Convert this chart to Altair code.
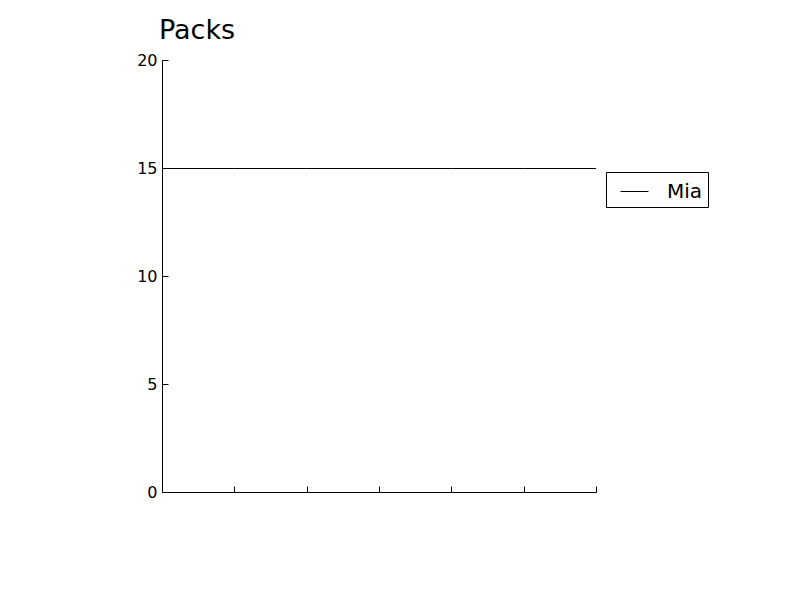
import altair as alt
import pandas as pd

series_names = ["Mia"]
x_positions = [0, 1, 2, 3, 4, 5, 6]
mia_values = [15, 15, 15, 15, 15, 15, 15]
y_ticks = [0, 5, 10, 15, 20]

df = pd.DataFrame({
    "x": x_positions,
    "value": mia_values,
    "series": ["Mia"] * len(x_positions),
})

FONT = "DejaVu Sans"
xs = alt.Scale(domain=[0, 6], nice=False, zero=False)
ys = alt.Scale(domain=[0, 20], nice=False, zero=False)

base = alt.Chart(df)

line = base.mark_line(strokeWidth=1, yOffset=0.5, color="black").encode(
    x=alt.X("x:Q", scale=xs, axis=alt.Axis(
        orient="bottom", values=x_positions, labels=False, ticks=False,
        domain=True, domainColor="black", domainWidth=1, grid=False, title=None)),
    y=alt.Y("value:Q", scale=ys, axis=alt.Axis(
        orient="left", values=y_ticks, ticks=False, labelPadding=5,
        labelFont=FONT, labelFontSize=16, labelColor="black",
        domain=True, domainColor="black", domainWidth=1, grid=False, title=None)),
    color=alt.Color("series:N", scale=alt.Scale(domain=series_names, range=["black"]),
                    legend=alt.Legend(
                        orient="none", legendX=444, legendY=112, title=None,
                        strokeColor="black", fillColor="white", padding=5,
                        cornerRadius=0, symbolType="stroke", symbolSize=784,
                        symbolStrokeWidth=1, symbolOffset=9,
                        labelFont=FONT, labelFontSize=20, labelColor="black",
                        labelOffset=18)),
)

tick_layer = base.mark_line(opacity=0).encode(
    x=alt.X("x:Q", scale=xs, axis=alt.Axis(
        orient="top", offset=-432, values=x_positions, labels=False,
        domain=False, ticks=True, tickSize=6, tickColor="black", tickWidth=1,
        grid=False, title=None)),
    y=alt.Y("value:Q", scale=ys, axis=alt.Axis(
        orient="right", offset=-434, values=y_ticks, labels=False,
        domain=False, ticks=True, tickSize=6, tickColor="black", tickWidth=1,
        grid=False, title=None)),
)

chart = alt.layer(line, tick_layer).resolve_axis(
    x="independent", y="independent"
).properties(
    width=434, height=432,
    background="white",
    title=alt.TitleParams("Packs", anchor="start", frame="group", font=FONT,
                          fontSize=27, fontWeight="normal", color="black",
                          baseline="alphabetic", offset=12, dx=-3, dy=26),
    autosize=alt.AutoSizeParams(type="none"),
    padding={"left": 162, "top": 60, "right": 204, "bottom": 108},
).configure_view(stroke=None)

chart.save("out.html", embed_options={"renderer": "svg", "actions": False})
